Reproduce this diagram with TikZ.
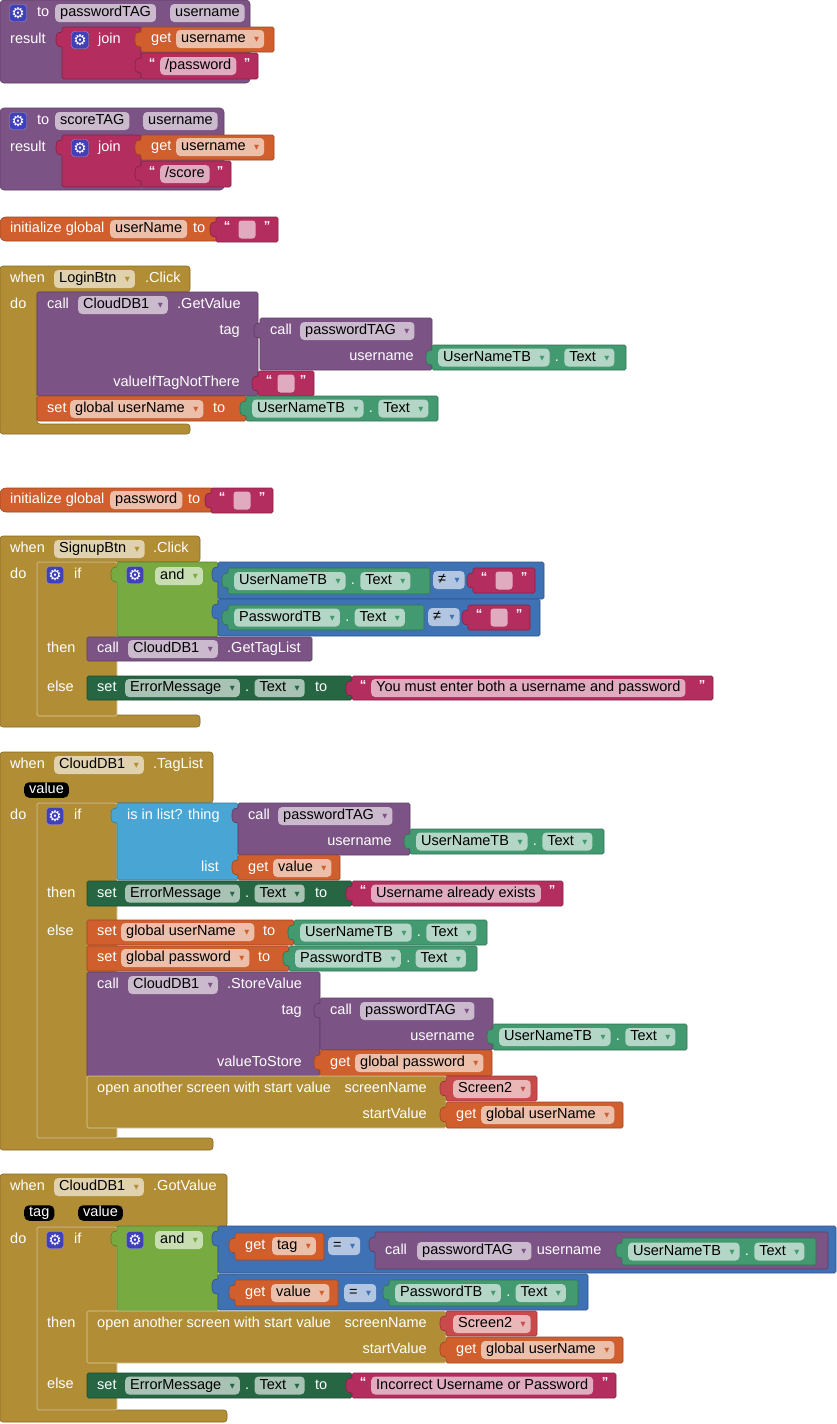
\documentclass[tikz,border=0pt]{standalone}
\usepackage{fontspec}
\setmainfont{Liberation Sans}
\newfontfamily\djv{DejaVu Sans}
\usetikzlibrary{positioning}
\definecolor{proc}{HTML}{7C5385}
\definecolor{txt}{HTML}{B32D5E}
\definecolor{var}{HTML}{D05F2D}
\definecolor{cget}{HTML}{439970}
\definecolor{cset}{HTML}{266643}
\definecolor{ctrl}{HTML}{B18E35}
\definecolor{cmp}{HTML}{3F71B5}
\definecolor{logic}{HTML}{77AB41}
\definecolor{lst}{HTML}{49A6D4}
\definecolor{scr}{HTML}{C94A4A}
\definecolor{gearc}{HTML}{4040B8}
\newcommand\blkfont{\fontsize{14.5}{17}\selectfont}
\newcommand\dd[1]{\hspace{8.5pt}\raisebox{1pt}{\color{#1}\djv\fontsize{6.5}{7}\selectfont ▼}\hspace{2pt}}
\newcommand\sblk[5]{\path[blk=#5] ({#1},{#2}) rectangle ({#3},{#4});}
\newcommand\vblk[5]{\path[blk=#5] ({#1},{#2}) -- ({#3},{#2}) -- ({#3},{#4}) -- ({#1},{#4}) -- ({#1},{#2+19}) -- ({#1-4},{#2+20}) -- ({#1-6},{#2+16}) -- ({#1-6},{#2+9}) -- ({#1-4},{#2+5}) -- ({#1},{#2+6}) -- cycle;}
\newcommand\lbl[4][west]{\node[lbl,anchor=#1] at ({#2},{#3}) {#4};}
\newcommand\fld[4]{\node[fld=#3] at ({#1},{#2}) {#4};}
\newcommand\dfld[4]{\node[fld=#3] at ({#1},{#2}) {#4\dd{#3}};}
\newcommand\gear[2]{\node[gearbox] at ({#1},{#2}) {⚙};}
\newcommand\parm[3]{\node[parm] at ({#1},{#2}) {#3};}
\newcommand\eblk[3][60]{\vblk{#2}{#3}{#2+#1}{#3+25}{txt}\node[qt] at ({#2+11},{#3+9}) {“};
  \node[fill=txt!40!white,rounded corners=3pt,minimum width=17pt,minimum height=18pt,inner sep=0pt] at ({#2+#1/2},{#3+12.5}) {};
  \node[qt] at ({#2+#1-11},{#3+9}) {”};}
\newcommand\tblk[5]{\vblk{#1}{#2}{#3}{#4}{txt}\node[qt] at ({#1+11},{(#2+#4)/2-3}) {“};
  \fld{#1+19}{(#2+#4)/2}{txt}{#5}\node[qt] at ({#3-11},{(#2+#4)/2-3}) {”};}
\newcommand\getter[5]{\vblk{#1}{#2}{#3}{#4}{cget}\node[fld=cget] (comp) at ({#1+6},{(#2+#4)/2}) {#5\dd{cget}};
  \node[lbl,right=5pt of comp] (dot) {.};\node[fld=cget,right=5pt of dot] {Text\dd{cget}};}
\newcommand\setter[4]{\sblk{#1}{#2}{#3}{#4}{cset}\lbl{#1+10}{(#2+#4)/2}{set}
  \node[fld=cset] (comp) at ({#1+38},{(#2+#4)/2}) {ErrorMessage\dd{cset}};
  \node[lbl,right=5pt of comp] (dot) {.};\node[fld=cset,right=5pt of dot] (prop) {Text\dd{cset}};
  \node[lbl,right=10pt of prop] {to};}
\newcommand\evt[5]{\path[blk=ctrl,rounded corners=3pt] (0,#2) -- (#1,#2) -- (#1,#3) -- (37,#3) -- (37,#4) -- (#1,#4) -- (#1,#5) -- (0,#5) -- cycle;}
\newcommand\ifb[2]{\path[blk=ctrl,draw=ctrl!45!white] (37,#1) rectangle (117,#2);}
\begin{document}
\begin{tikzpicture}[x=1pt, y=-1pt,
  blk/.style={fill=#1, draw=#1!75!black, line width=.6pt, rounded corners=1.5pt},
  lbl/.style={text=white, inner sep=0pt, text height=10.5pt, text depth=3pt, font=\blkfont},
  fld/.style={fill=#1!40!white, text=black, rounded corners=4pt, inner xsep=5pt, inner ysep=2.25pt, text height=10.5pt, text depth=3pt, anchor=west, font=\blkfont},
  qt/.style={text=white, inner sep=0pt, font=\fontsize{13}{13}\selectfont\bfseries},
  parm/.style={fill=black, text=white, rounded corners=5pt, inner xsep=5pt, inner ysep=1pt, text height=10.5pt, text depth=3pt, anchor=west, font=\blkfont},
  gearbox/.style={fill=gearc, draw=gearc!55!white, rounded corners=3pt, minimum size=17pt, inner sep=0pt, text=white, font=\djv\fontsize{15}{15}\selectfont}]
\fill[white] (0,0) rectangle (837,1424);
\useasboundingbox (0,0) rectangle (837,1424);

\path[blk=proc,rounded corners=4pt] (0,0) rectangle (250,83);
\gear{18}{13}\lbl{37}{13}{to}\fld{55}{13}{proc}{passwordTAG}\fld{170}{13}{proc}{username}
\lbl{10}{40}{result}
\vblk{62}{27}{141}{79}{txt}\gear{80}{40}\lbl{98}{40}{join}
\vblk{141}{27}{274}{52}{var}\lbl{151}{39}{get}\dfld{176}{39}{var}{username}
\tblk{141}{53}{258}{79}{/password}

\path[blk=proc,rounded corners=4pt] (0,108) rectangle (224,190);
\gear{18}{121}\lbl{37}{121}{to}\fld{55}{121}{proc}{scoreTAG}\fld{143}{121}{proc}{username}
\lbl{10}{148}{result}
\vblk{62}{135}{141}{187}{txt}\gear{80}{148}\lbl{98}{148}{join}
\vblk{141}{135}{274}{160}{var}\lbl{151}{147}{get}\dfld{176}{147}{var}{username}
\tblk{141}{161}{231}{187}{/score}

\path[blk=var,rounded corners=6pt] (0,217) rectangle (222,241);
\lbl{10}{229}{initialize global}\fld{110}{229}{var}{userName}\lbl{193}{229}{to}
\eblk[62]{216}{217}

\evt{190}{266}{292}{424}{434}
\lbl{10}{279}{when}\dfld{54}{279}{ctrl}{LoginBtn}\lbl{145}{279}{.Click}\lbl{10}{305}{do}
\sblk{37}{292}{258}{396}{proc}
\lbl{47}{305}{call}\dfld{78}{305}{proc}{CloudDB1}\lbl{177}{305}{.GetValue}
\lbl[east]{240}{331}{tag}\lbl[east]{240}{383}{valueIfTagNotThere}
\vblk{260}{318}{432}{370}{proc}\lbl{270}{331}{call}\dfld{300}{331}{proc}{passwordTAG}\lbl[east]{414}{357}{username}
\getter{432}{345}{626}{370}{UserNameTB}
\eblk[56]{258}{371}
\sblk{37}{396}{246}{421}{var}\lbl{47}{409}{set}\dfld{70}{409}{var}{global userName}\lbl{213}{409}{to}
\getter{246}{396}{438}{421}{UserNameTB}

\path[blk=var,rounded corners=6pt] (0,488) rectangle (217,512);
\lbl{10}{500}{initialize global}\fld{110}{500}{var}{password}\lbl{188}{500}{to}
\eblk[62]{211}{488}

\evt{200}{536}{562}{715}{727}
\lbl{10}{549}{when}\dfld{54}{549}{ctrl}{SignupBtn}\lbl{153}{549}{.Click}\lbl{10}{575}{do}
\ifb{562}{716}
\gear{55}{575}\lbl{74}{575}{if}\lbl{47}{649}{then}\lbl{47}{688}{else}
\vblk{117}{562}{218}{637}{logic}\gear{135}{575}\dfld{155}{576}{logic}{and}
\vblk{218}{562}{544}{599}{cmp}
\vblk{218}{599}{540}{636}{cmp}
\getter{228}{568}{430}{594}{UserNameTB}\dfld{433}{580}{cmp}{≠}\eblk[62]{473}{568}
\getter{228}{605}{424}{630}{PasswordTB}\dfld{428}{617}{cmp}{≠}\eblk[62]{468}{605}
\sblk{87}{637}{312}{661}{proc}\lbl{97}{649}{call}\dfld{128}{649}{proc}{CloudDB1}\lbl{227}{649}{.GetTagList}
\setter{87}{676}{352}{700}
\tblk{352}{676}{713}{700}{You must enter both a username and password}

\evt{213}{752}{803}{1138}{1150}
\lbl{10}{765}{when}\dfld{54}{765}{ctrl}{CloudDB1}\lbl{153}{765}{.TagList}
\parm{24}{790}{value}\lbl{10}{816}{do}
\ifb{803}{1138}
\gear{55}{816}\lbl{74}{816}{if}\lbl{47}{894}{then}\lbl{47}{932}{else}
\vblk{117}{803}{238}{880}{lst}\lbl{127}{816}{is in list? thing}\lbl[east]{219}{868}{list}
\vblk{238}{803}{410}{855}{proc}\lbl{248}{816}{call}\dfld{278}{816}{proc}{passwordTAG}\lbl[east]{392}{842}{username}
\getter{410}{829}{604}{854}{UserNameTB}
\vblk{238}{855}{340}{880}{var}\lbl{248}{868}{get}\dfld{273}{868}{var}{value}
\setter{87}{881}{352}{906}
\tblk{352}{881}{563}{906}{Username already exists}
\sblk{87}{920}{294}{945}{var}\lbl{97}{932}{set}\dfld{121}{932}{var}{global userName}\lbl{263}{932}{to}
\getter{294}{920}{487}{945}{UserNameTB}
\sblk{87}{946}{289}{971}{var}\lbl{97}{958}{set}\dfld{121}{958}{var}{global password}\lbl{258}{958}{to}
\getter{289}{946}{477}{971}{PasswordTB}
\sblk{87}{972}{320}{1076}{proc}\lbl{97}{985}{call}\dfld{128}{985}{proc}{CloudDB1}\lbl{227}{985}{.StoreValue}
\lbl[east]{302}{1011}{tag}\lbl[east]{302}{1063}{valueToStore}
\vblk{320}{998}{493}{1050}{proc}\lbl{330}{1011}{call}\dfld{360}{1011}{proc}{passwordTAG}\lbl[east]{475}{1037}{username}
\getter{493}{1024}{687}{1050}{UserNameTB}
\vblk{320}{1050}{492}{1076}{var}\lbl{330}{1063}{get}\dfld{355}{1063}{var}{global password}
\path[blk=ctrl,draw=ctrl!45!white] (87,1076) rectangle (446,1128);
\lbl{97}{1089}{open another screen with start value}\lbl[east]{427}{1089}{screenName}\lbl[east]{427}{1115}{startValue}
\vblk{446}{1076}{537}{1101}{scr}\dfld{453}{1089}{scr}{Screen2}
\vblk{446}{1102}{623}{1128}{var}\lbl{456}{1115}{get}\dfld{481}{1115}{var}{global userName}

\evt{227}{1174}{1227}{1410}{1422}
\lbl{10}{1187}{when}\dfld{54}{1187}{ctrl}{CloudDB1}\lbl{153}{1187}{.GotValue}
\parm{24}{1213}{tag}\parm{78}{1213}{value}\lbl{10}{1240}{do}
\ifb{1227}{1410}
\gear{55}{1240}\lbl{74}{1240}{if}\lbl{47}{1324}{then}\lbl{47}{1385}{else}
\vblk{117}{1226}{218}{1311}{logic}\gear{135}{1240}\dfld{155}{1240}{logic}{and}
\vblk{218}{1226}{836}{1273}{cmp}
\vblk{235}{1233}{324}{1260}{var}\lbl{245}{1246}{get}\dfld{272}{1246}{var}{tag}
\dfld{328}{1246}{cmp}{=}
\vblk{375}{1232}{828}{1269}{proc}\lbl{385}{1251}{call}
\node[fld=proc] (ptag) at (417,1251) {passwordTAG\dd{proc}};
\node[lbl,right=5pt of ptag] (uname) {username};
\getter{622}{1238}{816}{1265}{UserNameTB}
\vblk{218}{1274}{588}{1310}{cmp}
\vblk{235}{1280}{338}{1306}{var}\lbl{245}{1293}{get}\dfld{271}{1293}{var}{value}
\dfld{344}{1293}{cmp}{=}
\getter{389}{1280}{578}{1306}{PasswordTB}
\path[blk=ctrl,draw=ctrl!45!white] (87,1311) rectangle (446,1363);
\lbl{97}{1324}{open another screen with start value}\lbl[east]{427}{1324}{screenName}\lbl[east]{427}{1350}{startValue}
\vblk{446}{1311}{537}{1336}{scr}\dfld{453}{1324}{scr}{Screen2}
\vblk{446}{1337}{623}{1363}{var}\lbl{456}{1350}{get}\dfld{481}{1350}{var}{global userName}
\setter{87}{1373}{352}{1398}
\tblk{352}{1373}{616}{1398}{Incorrect Username or Password}
\end{tikzpicture}
\end{document}
